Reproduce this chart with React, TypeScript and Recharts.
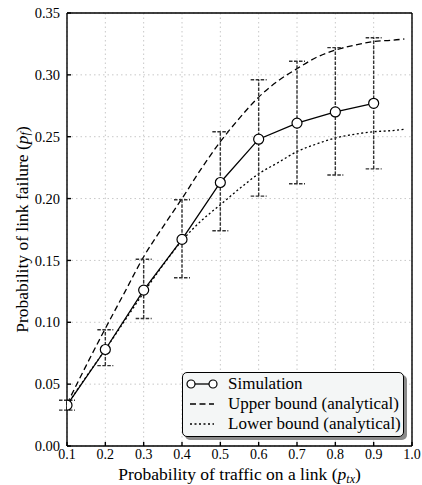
import { CartesianGrid, ErrorBar, Label, Legend, Line, LineChart, XAxis, YAxis } from "recharts";

const simX = [0.1, 0.2, 0.3, 0.4, 0.5, 0.6, 0.7, 0.8, 0.9];
const simY = [0.033, 0.078, 0.126, 0.167, 0.213, 0.248, 0.261, 0.27, 0.277];
const simLow = [0.029, 0.065, 0.103, 0.136, 0.174, 0.202, 0.212, 0.219, 0.224];
const simHigh = [0.037, 0.094, 0.151, 0.199, 0.254, 0.296, 0.311, 0.322, 0.33];

const boundX = [0.1, 0.15, 0.2, 0.25, 0.3, 0.35, 0.4, 0.45, 0.5, 0.55, 0.6, 0.65, 0.7, 0.75, 0.8, 0.85, 0.9, 0.95, 0.98];
const upperY = [0.034, 0.065, 0.095, 0.124, 0.153, 0.177, 0.2, 0.224, 0.246, 0.265, 0.282, 0.295, 0.305, 0.314, 0.32, 0.324, 0.327, 0.328, 0.329];
const lowerY = [0.033, 0.056, 0.078, 0.101, 0.124, 0.146, 0.166, 0.182, 0.195, 0.208, 0.22, 0.229, 0.238, 0.244, 0.249, 0.252, 0.254, 0.255, 0.256];

const xTicks = [0.1, 0.2, 0.3, 0.4, 0.5, 0.6, 0.7, 0.8, 0.9, 1.0];
const yTicks = [0, 0.05, 0.1, 0.15, 0.2, 0.25, 0.3, 0.35];

const seriesNames = ["Simulation", "Upper bound (analytical)", "Lower bound (analytical)"];

const simData = simX.map((x, i) => ({ x, y: simY[i], err: [simY[i] - simLow[i], simHigh[i] - simY[i]] }));
const upperData = boundX.map((x, i) => ({ x, y: upperY[i] }));
const lowerData = boundX.map((x, i) => ({ x, y: lowerY[i] }));

const FONT = "Liberation Serif";
const xTickStyle = { fontFamily: FONT, fontSize: 14, fill: "#000" };
const yTickStyle = { fontFamily: FONT, fontSize: 14.5, fill: "#000" };

function LegendBox() {
  return (
    <div
      style={{
        width: 222,
        height: 65,
        border: "1.2px solid #000",
        borderRadius: 5,
        background: "#f4f6f6",
        boxShadow: "3px 3px 0 #8a8a8a",
        fontFamily: FONT,
        fontSize: 17,
        color: "#000",
        boxSizing: "border-box",
        paddingTop: 1,
      }}
    >
      {seriesNames.map((name, i) => (
        <div key={name} style={{ display: "flex", alignItems: "center", height: 20 }}>
          <svg width={45} height={20} style={{ flexShrink: 0 }}>
            {i === 0 && (
              <>
                <line x1={8} x2={30} y1={10} y2={10} stroke="#000" strokeWidth={1.3} />
                <circle cx={8} cy={10} r={4} fill="#fff" stroke="#000" strokeWidth={1.2} />
                <circle cx={30} cy={10} r={4} fill="#fff" stroke="#000" strokeWidth={1.2} />
              </>
            )}
            {i === 1 && <line x1={7} x2={31} y1={10} y2={10} stroke="#000" strokeWidth={1.3} strokeDasharray="6 3.5" />}
            {i === 2 && <line x1={7} x2={31} y1={10} y2={10} stroke="#000" strokeWidth={1.3} strokeDasharray="2 2.5" />}
          </svg>
          <span style={{ whiteSpace: "nowrap" }}>{name}</span>
        </div>
      ))}
    </div>
  );
}

export default function App() {
  return (
    <div style={{ position: "absolute", left: 0, top: 0, width: 422, height: 485, fontFamily: FONT }}>
      <LineChart width={422} height={485} margin={{ top: 0, right: 0, bottom: 0, left: 0 }} style={{ fontFamily: FONT }}>
        <CartesianGrid stroke="#c8c8c8" strokeDasharray="1.5 3" />
        <XAxis
          dataKey="x"
          type="number"
          domain={[0.1, 1.0]}
          ticks={xTicks}
          tickFormatter={(v: number) => v.toFixed(1)}
          height={39}
          tickSize={-4}
          tickMargin={7}
          tick={xTickStyle}
          stroke="#000"
          strokeWidth={1.4}
          allowDataOverflow
        >
          <Label
            content={({ viewBox }: any) => (
              <text x={viewBox.x + viewBox.width / 2} y={viewBox.y + 34} textAnchor="middle" fontFamily={FONT} fontSize={17.5} fill="#000">
                Probability of traffic on a link (<tspan fontStyle="italic">p</tspan>
                <tspan fontStyle="italic" fontSize={12} dy={3}>tx</tspan>
                <tspan dy={-3}>)</tspan>
              </text>
            )}
          />
        </XAxis>
        <XAxis
          xAxisId="top"
          orientation="top"
          type="number"
          domain={[0.1, 1.0]}
          ticks={xTicks}
          height={13}
          tickSize={-4}
          tick={false}
          stroke="#000"
          strokeWidth={1.4}
          allowDataOverflow
        />
        <YAxis
          type="number"
          domain={[0, 0.35]}
          ticks={yTicks}
          tickFormatter={(v: number) => v.toFixed(2)}
          width={67}
          tickSize={-4}
          tickMargin={11}
          tick={yTickStyle}
          stroke="#000"
          strokeWidth={1.4}
          allowDataOverflow
        >
          <Label
            content={({ viewBox }: any) => {
              const cx = 22;
              const cy = viewBox.y + viewBox.height / 2;
              return (
                <text x={cx} y={cy} transform={`rotate(-90, ${cx}, ${cy})`} textAnchor="middle" dominantBaseline="central" fontFamily={FONT} fontSize={17.5} fill="#000">
                  Probability of link failure (<tspan fontStyle="italic">p</tspan>
                  <tspan fontStyle="italic" fontSize={12} dy={3}>f</tspan>
                  <tspan dy={-3}>)</tspan>
                </text>
              );
            }}
          />
        </YAxis>
        <YAxis
          yAxisId="right"
          orientation="right"
          type="number"
          domain={[0, 0.35]}
          ticks={yTicks}
          width={10}
          tickSize={-4}
          tick={false}
          stroke="#000"
          strokeWidth={1.4}
          allowDataOverflow
        />
        <Line data={upperData} dataKey="y" type="monotone" stroke="#000" strokeWidth={1.3} strokeDasharray="6 3.5" dot={false} isAnimationActive={false} name={seriesNames[1]} />
        <Line data={lowerData} dataKey="y" type="monotone" stroke="#000" strokeWidth={1.3} strokeDasharray="2 2.5" dot={false} isAnimationActive={false} name={seriesNames[2]} />
        <Line
          data={simData}
          dataKey="y"
          type="linear"
          stroke="#000"
          strokeWidth={1.3}
          dot={{ r: 5, fill: "#fff", stroke: "#000", strokeWidth: 1.2 }}
          isAnimationActive={false}
          name={seriesNames[0]}
        >
          <ErrorBar dataKey="err" direction="y" width={8} stroke="#333" strokeWidth={1.4} strokeDasharray="3.5 1.5" />
        </Line>
        <Legend
          layout="horizontal"
          verticalAlign="middle"
          align="center"
          content={() => <LegendBox />}
          wrapperStyle={{ left: 182, top: 372, width: 222, height: 65 }}
        />
      </LineChart>
    </div>
  );
}
